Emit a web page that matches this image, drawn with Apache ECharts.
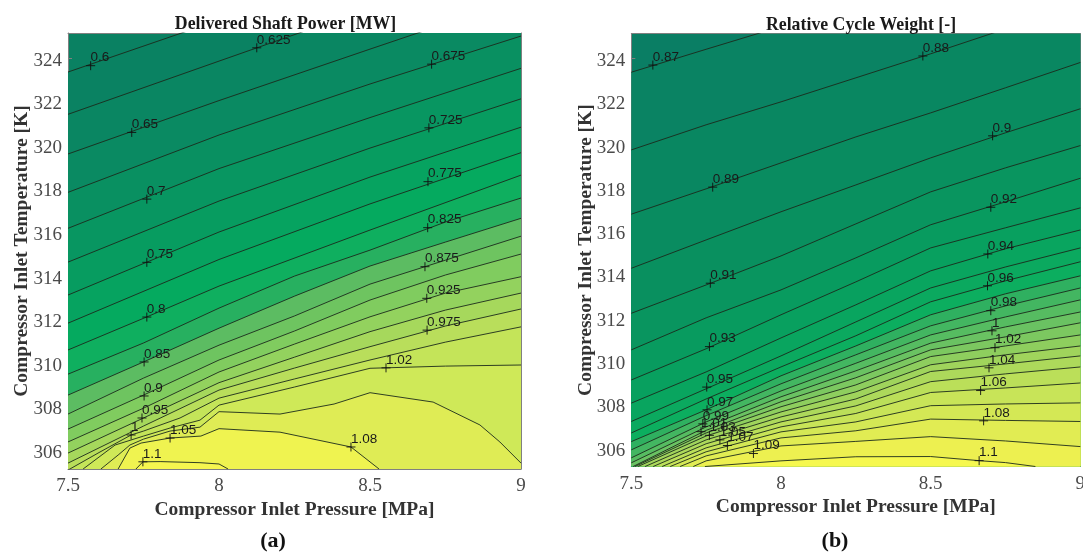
<!DOCTYPE html>
<html>
<head>
<meta charset="utf-8">
<style>html,body{margin:0;padding:0;background:#fff}#c{width:1083px;height:552px}</style>
<script src="https://cdn.jsdelivr.net/npm/echarts@6/dist/echarts.min.js"></script>
</head>
<body>
<div id="c"></div>
<script>
const xGrid = [7.5, 7.75, 8, 8.25, 8.5, 8.75, 9];
const xTicks = [7.5, 8, 8.5, 9];
const yTicks = [306, 308, 310, 312, 314, 316, 318, 320, 322, 324];
const yMin = 305.15, yMax = 325.15;

const powerLevels = [0.6,0.625,0.65,0.675,0.7,0.725,0.75,0.775,0.8,0.825,0.85,0.875,0.9,0.925,0.95,0.975,1,1.025,1.05,1.075,1.1];
const powerContours = [
  [[7.5,323.36],[8,325.74],[8.5,328.1],[9,330.5]],
  [[7.5,321.42],[8,323.86],[8.5,326.29],[9,328.7]],
  [[7.5,319.6],[8,322.05],[8.5,324.41],[9,326.75]],
  [[7.5,317.84],[8,320.47],[8.5,322.81],[9,325.01]],
  [[7.5,316.19],[8,318.93],[8.5,321.27],[9,323.53]],
  [[7.5,314.64],[8,317.44],[8.5,319.87],[9,322.13]],
  [[7.5,313.13],[8,316.02],[8.5,318.54],[9,320.83]],
  [[7.5,311.84],[8,314.76],[8.5,317.31],[9,319.66]],
  [[7.5,310.61],[7.76,312.12],[8,313.54],[8.5,316.11],[9,318.63]],
  [309.5,310.93,312.53,314,315.19,316.48,317.58],
  [308.54,310.06,311.61,313.08,314.46,315.56,316.65],
  [307.67,309.32,310.83,312.17,313.63,314.73,315.83],
  [306.98,308.54,310.15,311.48,312.9,314.05,315.01],
  [306.39,307.94,309.6,310.88,312.13,313.22,313.97],
  [305.88,307.49,309.11,310.28,311.45,312.44,313.22],
  [305.42,307.12,308.77,309.78,310.76,311.71,312.49],
  [[7.5,305.1],[7.606,305.93],[7.709,306.71],[7.75,306.89],[7.871,307.49],[8,308.4],[8.25,309.28],[8.5,310.15],[8.75,310.97],[9,311.67]],
  [[7.55,305.15],[7.656,306.25],[7.75,306.66],[7.838,307.03],[7.937,307.39],[8,308.08],[8.25,308.91],[8.5,309.77],[8.75,309.87],[9,309.92]],
  [[7.609,305.15],[7.666,305.79],[7.705,306.25],[7.75,306.52],[7.838,306.89],[7.937,307.07],[8,307.78],[8.202,307.67],[8.381,308.13],[8.5,308.65],[8.709,308.22],[8.864,307.17],[8.93,306.39],[9,305.42]],
  [[7.666,305.15],[7.705,306.11],[7.742,306.34],[7.838,306.57],[7.94,306.66],[8,307],[8.202,306.84],[8.437,306.16],[8.53,305.15]],
  [[7.725,305.15],[7.748,305.48],[7.805,305.49],[7.937,305.44],[8,305.38],[8.03,305.15]]
];
const powerLabels = [
  [7.575,323.65,'0.6'],[8.125,324.47,'0.625'],[7.711,320.59,'0.65'],[8.704,323.72,'0.675'],
  [7.761,317.53,'0.7'],[8.695,320.8,'0.725'],[7.761,314.63,'0.75'],[8.692,318.33,'0.775'],
  [7.761,312.12,'0.8'],[8.691,316.22,'0.825'],[7.752,310.06,'0.85'],[8.682,314.43,'0.875'],
  [7.752,308.5,'0.9'],[8.688,312.98,'0.925'],[7.745,307.49,'0.95'],[8.689,311.52,'0.975'],
  [7.709,306.71,'1'],[8.553,309.79,'1.02'],[7.838,306.57,'1.05'],[8.437,306.16,'1.08'],[7.748,305.48,'1.1']
];
const powerPalette = [[0.58,'#0a7f62'],[0.65,'#0a8a62'],[0.725,'#079c60'],[0.79,'#05ae5f'],[0.825,'#27b060'],[0.85,'#5cbc62'],[0.9,'#80cc5f'],[0.975,'#b9de5b'],[1.025,'#cfe958'],[1.05,'#dfec55'],[1.075,'#eff350'],[1.1,'#f6f64f']];

const weightLevels = [0.87,0.88,0.89,0.9,0.91,0.92,0.93,0.94,0.95,0.96,0.97,0.98,0.99,1,1.01,1.02,1.03,1.04,1.05,1.06,1.07,1.08,1.09,1.1];
const weightContours = [
  [323.37,324.43,325.48,326.62,327.73,328.84,329.95],
  [319.78,320.94,322,323.11,324.22,325.37,326.48],
  [316.81,317.98,319.18,320.38,321.49,322.65,323.82],
  [314.31,315.62,316.92,318.16,319.41,320.57,321.68],
  [312.23,313.54,314.88,316.36,317.84,318.95,319.98],
  [310.54,312.02,313.31,314.79,316.32,317.38,318.47],
  [309.15,310.59,312.16,313.68,315.25,316.18,317.1],
  [308.08,309.52,311.09,312.62,314.19,315.21,316.08],
  [307.23,308.74,310.26,311.83,313.4,314.37,315.25],
  [306.7,308.27,309.75,311.19,312.76,313.73,314.61],
  [306.3,307.77,309.34,310.72,312.16,313.13,313.96],
  [305.92,307.5,308.97,310.31,311.65,312.57,313.4],
  [305.55,307.21,308.64,309.92,311.23,312.06,312.85],
  [305.32,306.98,308.37,309.57,310.85,311.6,312.29],
  [[7.506,305.15],306.82,308.14,309.25,310.54,311.14,311.79],
  [[7.512,305.15],306.7,307.91,308.92,310.23,310.72,311.23],
  [[7.522,305.15],306.56,307.67,308.6,309.85,310.31,310.72],
  [[7.546,305.15],306.38,307.44,308.27,309.54,309.89,310.26],
  [[7.573,305.15],306.2,307.21,307.95,309.07,309.43,309.75],
  [[7.603,305.15],306.01,306.98,307.6,308.57,308.78,309.01],
  [[7.63,305.15],305.83,306.75,307.21,307.96,308.04,308.09],
  [[7.663,305.15],305.64,306.47,306.8,307.34,307.28,307.23],
  [[7.707,305.15],305.41,306.1,306.31,306.53,306.33,306.07],
  [[7.746,305.15],[8,305.41],[8.25,305.6],[8.5,305.61],[8.662,305.42],[8.75,305.33],[8.85,305.15]]
];
const weightLabels = [
  [7.572,323.7,'0.87'],[8.474,324.12,'0.88'],[7.772,318.06,'0.89'],[8.707,320.43,'0.9'],
  [7.764,313.62,'0.91'],[8.701,317.13,'0.92'],[7.761,310.69,'0.93'],[8.691,314.97,'0.94'],
  [7.752,308.82,'0.95'],[8.69,313.5,'0.96'],[7.753,307.77,'0.97'],[8.701,312.35,'0.98'],
  [7.739,307.12,'0.99'],[8.705,311.42,'1'],[7.733,306.76,'1.01'],[8.715,310.64,'1.02'],
  [7.761,306.59,'1.03'],[8.695,309.71,'1.04'],[7.796,306.38,'1.05'],[8.667,308.66,'1.06'],
  [7.821,306.12,'1.07'],[8.677,307.26,'1.08'],[7.908,305.75,'1.09'],[8.662,305.42,'1.1']
];
const weightPalette = [[0.86,'#0a7e64'],[0.9,'#09905f'],[0.93,'#08a05f'],[0.96,'#0cae5f'],[0.97,'#2fb060'],[1,'#6ac262'],[1.03,'#a0d45c'],[1.06,'#c8e458'],[1.09,'#edf050'],[1.1,'#f6f84f']];

const titles = ['Delivered Shaft Power [MW]', 'Relative Cycle Weight [-]'];
const xName = 'Compressor Inlet Pressure [MPa]';
const yName = 'Compressor Inlet Temperature [K]';

function hex(c){return [1,3,5].map(i=>parseInt(c.substr(i,2),16));}
function colorAt(pal,v){
  if(v<=pal[0][0])return pal[0][1];
  for(let i=1;i<pal.length;i++){
    if(v<=pal[i][0]){
      const t=(v-pal[i-1][0])/(pal[i][0]-pal[i-1][0]);
      const a=hex(pal[i-1][1]),b=hex(pal[i][1]);
      return 'rgb('+a.map((x,k)=>Math.round(x+(b[k]-x)*t)).join(',')+')';
    }
  }
  return pal[pal.length-1][1];
}
function points(row){return row.map((v,i)=>Array.isArray(v)?v:[xGrid[i],v]);}

const serif = '"Liberation Serif"';
const series = [];
function addPanel(idx, levels, contours, labels, pal){
  const axes = {xAxisIndex: idx*2, yAxisIndex: idx*2};
  contours.forEach((row,i)=>{
    series.push(Object.assign({type:'line',data:points(row),symbol:'none',silent:true,animation:false,z:2,
      lineStyle:{width:0},areaStyle:{color:colorAt(pal,levels[i]+1e-6),opacity:1,origin:'start'}},axes));
  });
  contours.forEach(row=>{
    series.push(Object.assign({type:'line',data:points(row),symbol:'none',silent:true,animation:false,z:3,
      lineStyle:{width:0.9,color:'#1c2a1c'}},axes));
  });
  series.push(Object.assign({type:'scatter',silent:true,animation:false,z:5,
    symbol:'path://M0,5L10,5M5,0L5,10',symbolSize:9,
    itemStyle:{color:'rgba(0,0,0,0)',borderColor:'#111',borderWidth:0.9,opacity:1},
    data:labels.map(l=>({value:[l[0],l[1]],name:l[2]})),
    label:{show:true,position:'right',distance:0,offset:[-5,-8],formatter:'{b}',
      fontFamily:'"Liberation Sans"',fontSize:13.5,color:'#1a1a1a'}},axes));
}
addPanel(0,powerLevels,powerContours,powerLabels,powerPalette);
addPanel(1,weightLevels,weightContours,weightLabels,weightPalette);

const lineCol='#808080';
function xAxes(g){
  const base={type:'value',gridIndex:g,min:7.5,max:9,interval:0.5,splitLine:{show:false},
    axisLine:{onZero:false,lineStyle:{color:lineCol,width:1}},
    axisTick:{inside:true,length:4,lineStyle:{color:lineCol}}};
  return [
    Object.assign({},base,{position:'bottom',name:xName,nameLocation:'middle',nameGap:g?30:31,nameMoveOverlap:false,
      nameTextStyle:{fontFamily:serif,fontWeight:'bold',fontSize:19.5,color:'#333'},
      axisLabel:{fontFamily:serif,fontSize:19,color:'#4a4a4a',margin:8,hideOverlap:false,showMinLabel:true,showMaxLabel:true,formatter:v=>String(v)}}),
    Object.assign({},base,{position:'top',axisLabel:{show:false}})
  ];
}
function yAxes(g){
  const base={type:'value',gridIndex:g,min:yMin,max:yMax,splitLine:{show:false},
    axisLine:{onZero:false,lineStyle:{color:lineCol,width:1}},
    axisTick:{inside:true,length:4,lineStyle:{color:lineCol},customValues:yTicks}};
  return [
    Object.assign({},base,{position:'left',name:yName,nameLocation:'middle',nameGap:g?35:36,nameMoveOverlap:false,
      nameTextStyle:{fontFamily:serif,fontWeight:'bold',fontSize:19.5,color:'#333'},
      axisLabel:{margin:6,customValues:yTicks,formatter:v=>'{a|'+v+'}',
        rich:{a:{fontFamily:serif,fontSize:19,color:'#4a4a4a',padding:[5,0,0,0]}}}}),
    Object.assign({},base,{position:'right',axisLabel:{show:false}})
  ];
}
const capRich={n:{fontFamily:serif,fontSize:22,color:'#111'},b:{fontFamily:serif,fontSize:22,fontWeight:'bold',color:'#111'}};
const option={
  backgroundColor:'#fff',
  animation:false,
  title:[
    {text:titles[0],left:280.5,top:10,textAlign:'center',textStyle:{fontFamily:serif,fontWeight:'bold',fontSize:17.8,color:'#1a1a1a'}},
    {text:titles[1],left:856,top:11,textAlign:'center',textStyle:{fontFamily:serif,fontWeight:'bold',fontSize:17.8,color:'#1a1a1a'}},
    {text:'{n|(}{b|a}{n|)}',left:268,top:525,textAlign:'center',textStyle:{rich:capRich}},
    {text:'{n|(}{b|b}{n|)}',left:830,top:525,textAlign:'center',textStyle:{rich:capRich}}
  ],
  grid:[
    {left:68,top:33,width:453,height:436,outerBoundsMode:'none',containLabel:false,show:true,backgroundColor:colorAt(powerPalette,0.59),borderWidth:0},
    {left:631.3,top:33.7,width:449,height:432.8,outerBoundsMode:'none',containLabel:false,show:true,backgroundColor:colorAt(weightPalette,0.86),borderWidth:0}
  ],
  xAxis:[...xAxes(0),...xAxes(1)],
  yAxis:[...yAxes(0),...yAxes(1)],
  series
};
const chart=echarts.init(document.getElementById('c'),null,{renderer:'canvas'});
chart.setOption(option);
</script>
</body>
</html>
